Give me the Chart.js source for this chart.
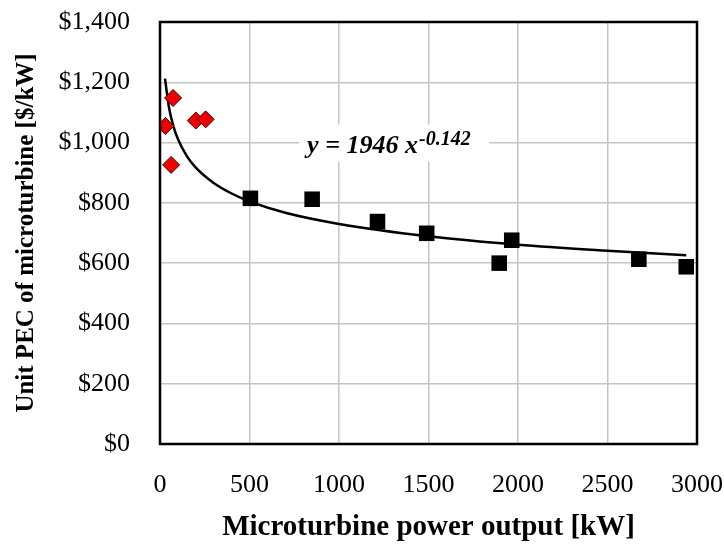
<!DOCTYPE html>
<html>
<head>
<meta charset="utf-8">
<script src="https://cdn.jsdelivr.net/npm/chart.js@4/dist/chart.umd.min.js"></script>
<style>
    html, body { margin: 0; padding: 0; background: #fff; }
    #wrap { width: 724px; height: 545px; position: relative; }
</style>
</head>
<body>
<div id="wrap"><canvas id="pec-chart"></canvas></div>
<script>
// red diamonds (small units)
const smallPower = [30, 62, 73, 200, 255];
const smallPec = [1055, 926, 1148, 1073, 1077];

// black squares (larger units)
const largePower = [505, 850, 1215, 1490, 1895, 1965, 2675, 2940];
const largePec = [815, 812, 738, 699, 600, 676, 613, 588];

// power-law trend line
const trendPower = [28, 50, 75, 100, 150, 200, 300, 400, 500, 700, 1000, 1500, 2000, 2500, 2940];
const trendPec = [1212, 1117, 1054, 1012, 955, 917, 866, 831, 805, 767, 730, 689, 661, 641, 626];

const xTicks = [0, 500, 1000, 1500, 2000, 2500, 3000];
const yTicks = [0, 200, 400, 600, 800, 1000, 1200, 1400];

const SERIF = "'Liberation Serif', 'Times New Roman', serif";

function toPoints(xs, ys) {
    return xs.map((x, i) => ({ x: x, y: ys[i] }));
}

// black frame round the plot plus the equation label
const framePlugin = {
    id: "frame",
    afterDatasetsDraw(chart) {
        const { ctx, chartArea, scales } = chart;
        ctx.save();

        const cx = scales.x.getPixelForValue(1280);
        const cy = scales.y.getPixelForValue(990);
        ctx.fillStyle = "#fff";
        ctx.fillRect(cx - 90, cy - 21, 190, 37);

        ctx.fillStyle = "#000";
        ctx.textBaseline = "alphabetic";
        ctx.font = "italic bold 26px " + SERIF;
        const main = "y = 1946 x";
        const w = ctx.measureText(main).width;
        const left = cx - 82;
        ctx.fillText(main, left, cy + 7.5);
        ctx.font = "italic bold 20px " + SERIF;
        ctx.fillText("-0.142", left + w + 1, cy - 1);

        ctx.strokeStyle = "#000";
        ctx.lineWidth = 2.5;
        ctx.strokeRect(chartArea.left, chartArea.top,
            chartArea.right - chartArea.left, chartArea.bottom - chartArea.top);
        ctx.restore();
    },
};

function renderChart(ctx) {
    const chartConfig = {
        type: "scatter",
        data: {
            datasets: [
                {
                    label: "Small units",
                    data: toPoints(smallPower, smallPec),
                    pointStyle: "rectRot",
                    pointRadius: 8.5,
                    backgroundColor: "#ee0000",
                    borderColor: "#3a0000",
                    borderWidth: 1,
                },
                {
                    label: "Large units",
                    data: toPoints(largePower, largePec),
                    pointStyle: "rect",
                    pointRadius: 11,
                    backgroundColor: "#000",
                    borderColor: "#000",
                    borderWidth: 0,
                },
                {
                    type: "line",
                    label: "Trend",
                    data: toPoints(trendPower, trendPec),
                    borderColor: "#000",
                    borderWidth: 2.5,
                    pointRadius: 0,
                    fill: false,
                    cubicInterpolationMode: "monotone",
                },
            ],
        },
        options: {
            responsive: true,
            maintainAspectRatio: false,
            animation: false,
            layout: { padding: { top: 22, right: 27, left: 0, bottom: 0 } },
            plugins: {
                legend: { display: false },
                tooltip: { enabled: false },
            },
            scales: {
                x: {
                    type: "linear",
                    min: 0,
                    max: 3000,
                    afterFit: (scale) => {
                        scale.height = 101;
                        scale.paddingLeft = 0;
                        scale.paddingRight = 0;
                    },
                    afterBuildTicks: (scale) => {
                        scale.ticks = xTicks.map((v) => ({ value: v }));
                    },
                    grid: { color: "#c4c4c4", lineWidth: 1.5, drawTicks: false },
                    border: { display: false },
                    ticks: {
                        color: "#000",
                        padding: 26,
                        maxRotation: 0,
                        font: { family: SERIF, size: 26 },
                        callback: (v) => String(v),
                    },
                    title: {
                        display: true,
                        text: "Microturbine power output [kW]",
                        color: "#000",
                        padding: { top: 0, bottom: 0 },
                        font: { family: SERIF, size: 29, weight: "bold" },
                    },
                },
                y: {
                    min: 0,
                    max: 1400,
                    afterFit: (scale) => {
                        scale.width = 160;
                        scale.paddingTop = 0;
                        scale.paddingBottom = 0;
                    },
                    afterBuildTicks: (scale) => {
                        scale.ticks = yTicks.map((v) => ({ value: v }));
                    },
                    grid: { color: "#c4c4c4", lineWidth: 1.5, drawTicks: false },
                    border: { display: false },
                    ticks: {
                        color: "#000",
                        padding: 30,
                        font: { family: SERIF, size: 26 },
                        callback: (v) => "$" + v.toLocaleString("en-US"),
                    },
                    title: {
                        display: true,
                        text: "Unit PEC of microturbine [$/kW]",
                        color: "#000",
                        padding: { top: 12, bottom: 0 },
                        font: { family: SERIF, size: 25, weight: "bold" },
                    },
                },
            },
        },
        plugins: [framePlugin],
    };

    new Chart(ctx, chartConfig);
}

document.addEventListener("DOMContentLoaded", () => {
    renderChart(document.getElementById("pec-chart").getContext("2d"));
});
</script>
</body>
</html>
